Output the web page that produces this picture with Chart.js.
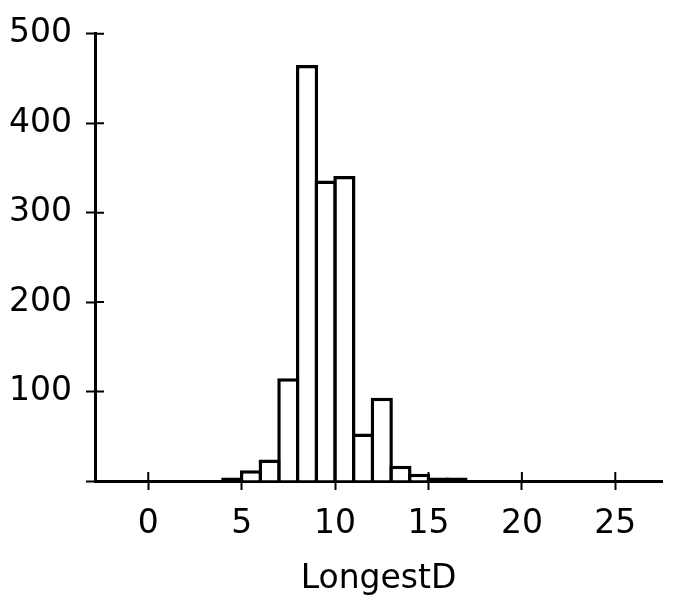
<!DOCTYPE html>
<html>
<head>
<meta charset="utf-8">
<script src="https://cdn.jsdelivr.net/npm/chart.js@4"></script>
<style>
  html, body { margin: 0; padding: 0; background: #fff; }
  #wrap { width: 680px; height: 599px; }
</style>
</head>
<body>
<div id="wrap"><canvas id="chart"></canvas></div>
<script>
// histogram bins (width 1) and counts
const binStarts = [4, 5, 6, 7, 8, 9, 10, 11, 12, 13, 14, 15, 16];
const counts = [2, 12, 24, 115, 465, 336, 341, 53, 93, 17, 8, 2, 2];
const xTicks = [0, 5, 10, 15, 20, 25];
const yTicks = [0, 100, 200, 300, 400, 500];
const xTitle = 'LongestD';

const FONT = { family: 'DejaVu Sans', size: 33 };

// tick marks in the reference cross the axis, so draw the inner half too
const innerTicks = {
    id: 'innerTicks',
    beforeDatasetsDraw(chart) {
        const { ctx, chartArea, scales } = chart;
        ctx.save();
        ctx.strokeStyle = '#000';
        ctx.lineWidth = 2;
        ctx.beginPath();
        xTicks.forEach(v => {
            const px = scales.x.getPixelForValue(v);
            ctx.moveTo(px, chartArea.bottom);
            ctx.lineTo(px, chartArea.bottom - 9);
        });
        yTicks.forEach(v => {
            const py = scales.y.getPixelForValue(v);
            ctx.moveTo(chartArea.left, py);
            ctx.lineTo(chartArea.left + 9, py);
        });
        ctx.stroke();
        ctx.restore();
    }
};

new Chart(document.getElementById('chart'), {
    type: 'bar',
    data: {
        datasets: [{
            data: binStarts.map((b, i) => ({ x: b + 0.5, y: counts[i] })),
            backgroundColor: '#fff',
            borderColor: '#000',
            borderWidth: 3.5,
            // tiny bins show as a solid black strip in the reference
            borderSkipped: c => (c.raw && c.raw.y < 5 ? false : 'start'),
            minBarLength: 3.5,
            barPercentage: 1.187,
            categoryPercentage: 1
        }]
    },
    options: {
        responsive: true,
        maintainAspectRatio: false,
        animation: false,
        layout: { padding: { top: 29, right: 18, left: 0, bottom: 0 } },
        plugins: { legend: { display: false }, tooltip: { enabled: false } },
        scales: {
            x: {
                type: 'linear',
                offset: false,
                min: -2.85,
                max: 27.5,
                afterBuildTicks: s => { s.ticks = xTicks.map(v => ({ value: v })); },
                afterFit: s => { s.height = 118; },
                grid: { offset: false, drawOnChartArea: false, tickLength: 9, tickWidth: 2, tickColor: '#000' },
                border: { display: true, color: '#000', width: 3 },
                ticks: { color: '#000', font: FONT, padding: 15, maxRotation: 0 },
                title: { display: true, text: xTitle, color: '#000', font: FONT, padding: { top: 0, bottom: 0 } }
            },
            y: {
                min: 0,
                max: 500,
                afterBuildTicks: s => { s.ticks = yTicks.map(v => ({ value: v })); },
                afterFit: s => { s.width = 95; },
                grid: { drawOnChartArea: false, tickLength: 9, tickWidth: 2, tickColor: '#000' },
                border: { display: true, color: '#000', width: 3 },
                ticks: { color: '#000', font: FONT, padding: 14, callback: v => (v === 0 ? '' : v) }
            }
        }
    },
    plugins: [innerTicks]
});
</script>
</body>
</html>
